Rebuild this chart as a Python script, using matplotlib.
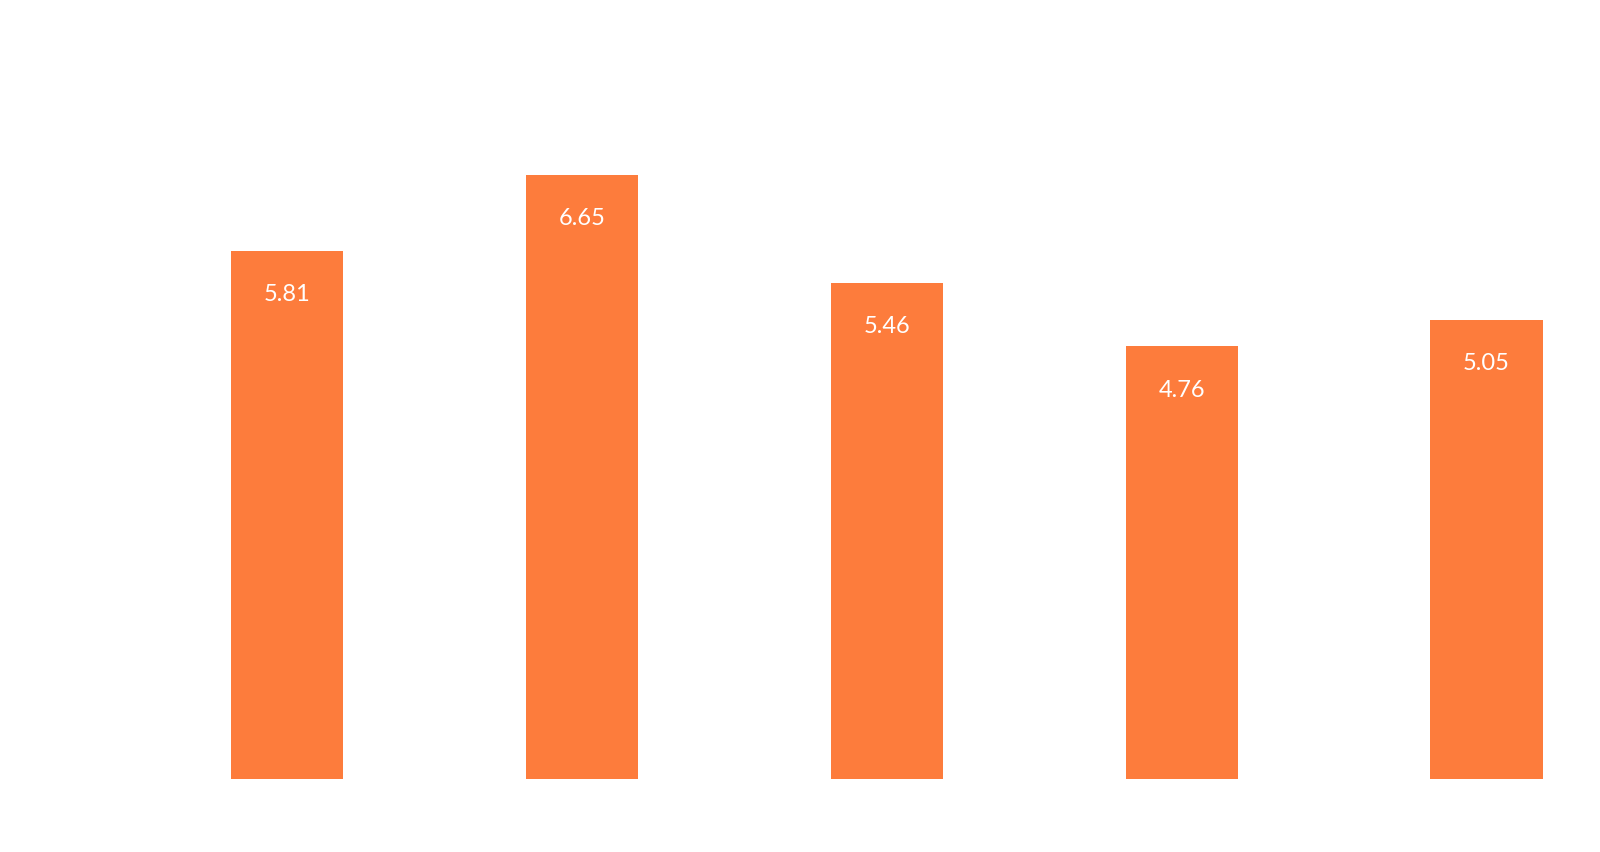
import matplotlib.pyplot as plt
import matplotlib.dates as mdates
import numpy as np
import datetime as dt

# monthly values (no axis labels shown in the chart)
months = [dt.date(2023, 4, 1), dt.date(2023, 5, 1), dt.date(2023, 6, 1),
          dt.date(2023, 7, 1), dt.date(2023, 8, 1)]
values = [5.81, 6.65, 5.46, 4.76, 5.05]

bar_color = "#FD7C3C"

fig = plt.figure(figsize=(16, 8.53), dpi=100)
ax = fig.add_axes([0, (853 - 779.5) / 853, 1, 779.5 / 853])

x = mdates.date2num(months)
bars = ax.bar(x, values, width=11.4, color=bar_color, linewidth=0)

# value labels inside the top of each bar
for xi, v in zip(x, values):
    ax.annotate(f"{v:.2f}", (xi, v), xytext=(0, -43), textcoords="offset pixels",
                ha="center", va="center", color="white", fontsize=17,
                family=["Lato", "DejaVu Sans"])

px_per_day = 9.83
ax.set_xlim(x[0] - 286.8 / px_per_day, x[-1] + 113.5 / px_per_day)
ax.set_ylim(0, 779.5 / 90.8)
ax.axis("off")

fig.savefig("out.png", dpi=100, facecolor="white")
